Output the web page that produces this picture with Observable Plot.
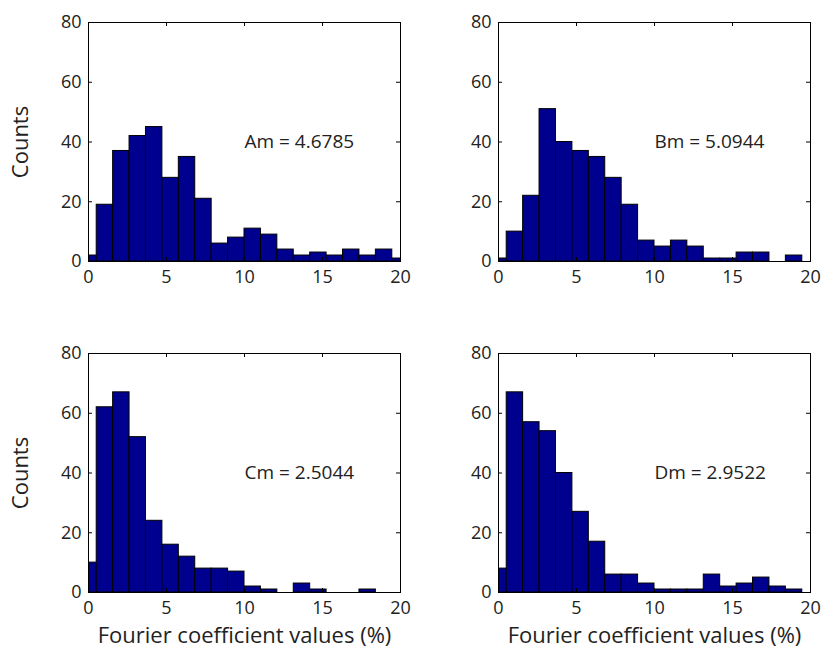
<!DOCTYPE html>
<html>
<head>
<meta charset="utf-8">
<script src="https://cdn.jsdelivr.net/npm/d3@7"></script>
<script src="https://cdn.jsdelivr.net/npm/@observablehq/plot@0.6"></script>
<style>
  body { margin: 0; background: #fff; }
  #wrap { position: relative; width: 824px; height: 650px; background: #fff; }
  #wrap > svg { position: absolute; }
</style>
</head>
<body>
<div id="wrap"></div>
<script>
// Histogram counts, 20 bins centred at linspace(0, 20, 20)
const countsA = [2, 19, 37, 42, 45, 28, 35, 21, 6, 8, 11, 9, 4, 2, 3, 2, 4, 2, 4, 1];
const countsB = [1, 10, 22, 51, 40, 37, 35, 28, 19, 7, 5, 7, 5, 1, 1, 3, 3, 0, 2, 0];
const countsC = [10, 62, 67, 52, 24, 16, 12, 8, 8, 7, 2, 1, 0, 3, 1, 0, 0, 1, 0, 0];
const countsD = [8, 67, 57, 54, 40, 27, 17, 6, 6, 3, 1, 1, 1, 6, 2, 3, 5, 2, 1, 0];
const means = ["Am = 4.6785", "Bm = 5.0944", "Cm = 2.5044", "Dm = 2.9522"];
const xTicks = [0, 5, 10, 15, 20];
const yTicks = [0, 20, 40, 60, 80];
const nBins = 20, xMax = 20;
const binWidth = xMax / (nBins - 1);

const font = "'Open Sans', 'Noto Sans', sans-serif";
const barFill = "#00008f";

function panel(counts, note, {left, top, width, height, mLeft, mRight, mTop, mBottom, yLabel, xLabel}) {
  const bins = counts.map((c, i) => ({x1: i * binWidth - binWidth / 2, x2: i * binWidth + binWidth / 2, y: c}));
  const innerH = height - mTop - mBottom;
  const innerW = width - mLeft - mRight;
  const tk = 4;
  const svg = Plot.plot({
    width, height,
    marginLeft: mLeft, marginRight: mRight, marginTop: mTop, marginBottom: mBottom,
    style: {fontFamily: font, fontSize: "18px", color: "#222", background: "transparent", overflow: "visible"},
    x: {domain: [0, xMax], ticks: xTicks, tickSize: 0, tickPadding: 9, tickFormat: d3.format("d"),
        label: xLabel, labelAnchor: "center", labelOffset: 50, labelArrow: "none"},
    y: {domain: [0, 80], ticks: yTicks, tickSize: 0, tickPadding: 7, tickFormat: d3.format("d"),
        label: yLabel, labelAnchor: "center", labelOffset: 76, labelArrow: "none"},
    marks: [
      Plot.rectY(bins, {x1: "x1", x2: "x2", y: "y", fill: barFill, stroke: "black", strokeWidth: 1, clip: true, inset: 0}),
      Plot.tickX(xTicks, {x: d => d, insetTop: innerH - tk, stroke: "black"}),
      Plot.tickX(xTicks, {x: d => d, insetBottom: innerH - tk, stroke: "black"}),
      Plot.tickY(yTicks, {y: d => d, insetRight: innerW - tk, stroke: "black"}),
      Plot.tickY(yTicks, {y: d => d, insetLeft: innerW - tk, stroke: "black"}),
      Plot.frame({stroke: "black", strokeWidth: 1}),
      Plot.text([note], {x: () => 10, y: () => 40, text: d => d, textAnchor: "start", fontSize: 19, fill: "#222"})
    ]
  });
  svg.style.left = left + "px";
  svg.style.top = top + "px";
  svg.querySelectorAll("g[aria-label='x-axis label'] text, g[aria-label='y-axis label'] text").forEach(t => t.setAttribute("font-size", "22"));
  document.getElementById("wrap").appendChild(svg);
}

panel(countsA, means[0], {left: 0, top: 0, width: 412, height: 300, mLeft: 88, mRight: 12, mTop: 22, mBottom: 39, yLabel: "Counts", xLabel: null});
panel(countsB, means[1], {left: 410, top: 0, width: 414, height: 300, mLeft: 88, mRight: 14, mTop: 22, mBottom: 39, yLabel: null, xLabel: null});
panel(countsC, means[2], {left: 0, top: 330, width: 412, height: 320, mLeft: 88, mRight: 12, mTop: 23, mBottom: 58, yLabel: "Counts", xLabel: "Fourier coefficient values (%)"});
panel(countsD, means[3], {left: 410, top: 330, width: 414, height: 320, mLeft: 88, mRight: 14, mTop: 23, mBottom: 58, yLabel: null, xLabel: "Fourier coefficient values (%)"});
</script>
</body>
</html>
